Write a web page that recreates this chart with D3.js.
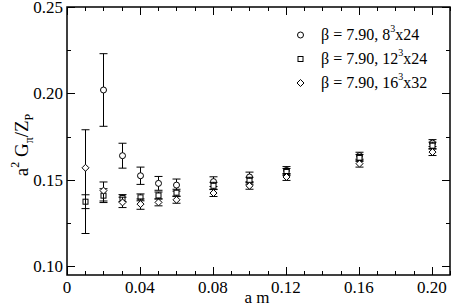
<!DOCTYPE html>
<html>
<head>
<meta charset="utf-8">
<script src="https://cdn.jsdelivr.net/npm/d3@7"></script>
<style>
  body { margin: 0; background: #fff; }
  text { font-family: "Liberation Serif", "DejaVu Serif", serif; fill: #000; }
</style>
</head>
<body>
<svg id="chart" width="452" height="306"></svg>
<script>
// quark mass values
var am8 = [0.02, 0.03, 0.04, 0.05, 0.06, 0.08, 0.10, 0.12, 0.16, 0.20];
var am12 = [0.01, 0.02, 0.03, 0.04, 0.05, 0.06, 0.08, 0.10, 0.12, 0.16, 0.20];
var am16 = [0.01, 0.02, 0.03, 0.04, 0.05, 0.06, 0.08, 0.10, 0.12, 0.16, 0.20];

// 8^3x24
var g8 = [0.202, 0.164, 0.1524, 0.148, 0.147, 0.149, 0.1517, 0.1555, 0.164, 0.1713];
var g8err = [0.021, 0.0072, 0.005, 0.004, 0.0035, 0.0028, 0.0028, 0.0022, 0.002, 0.002];
// 12^3x24
var g12 = [0.1374, 0.1409, 0.1395, 0.1399, 0.141, 0.1426, 0.1466, 0.1495, 0.1546, 0.1627, 0.1698];
var g12err = [0.004, 0.004, 0.002, 0.002, 0.002, 0.002, 0.002, 0.002, 0.002, 0.002, 0.002];
// 16^3x32
var g16 = [0.157, 0.1438, 0.137, 0.136, 0.137, 0.1385, 0.1424, 0.1466, 0.1517, 0.1594, 0.1661];
var g16errUp = [0.022, 0.005, 0.003, 0.003, 0.002, 0.002, 0.002, 0.002, 0.002, 0.002, 0.002];
var g16errDown = [0.038, 0.006, 0.003, 0.003, 0.002, 0.002, 0.002, 0.002, 0.002, 0.002, 0.002];

var xTicks = [0, 0.04, 0.08, 0.12, 0.16, 0.20];
var yTicks = [0.10, 0.15, 0.20, 0.25];
var legendLabels = ["8", "12", "16"];
var legendTails = ["x24", "x24", "x32"];

var svg = d3.select("#chart");
var pl = 67, pr = 450, pt = 7, pb = 275;

var x = d3.scaleLinear().domain([0, 0.21]).range([pl, pr]);
var y = d3.scaleLinear().domain([0.095, 0.25]).range([pb, pt]);

// ticks (inward, on all four sides)
var tk = svg.append("g").attr("stroke", "#000").attr("stroke-width", 1);
d3.range(0, 0.2101, 0.01).forEach(function(v, i) {
  var len = (i % 4 === 0) ? 8 : 4;
  var px = Math.round(x(v)) + 0.5;
  tk.append("line").attr("x1", px).attr("x2", px).attr("y1", pb).attr("y2", pb - len);
  tk.append("line").attr("x1", px).attr("x2", px).attr("y1", pt).attr("y2", pt + len);
});
d3.range(0.10, 0.2501, 0.025).forEach(function(v, i) {
  var len = (i % 2 === 0) ? 8 : 4;
  var py = Math.round(y(v)) + 0.5;
  tk.append("line").attr("y1", py).attr("y2", py).attr("x1", pl).attr("x2", pl + len);
  tk.append("line").attr("y1", py).attr("y2", py).attr("x1", pr).attr("x2", pr - len);
});

svg.append("rect")
  .attr("x", pl).attr("y", pt)
  .attr("width", pr - pl).attr("height", pb - pt)
  .attr("fill", "none").attr("stroke", "#000").attr("stroke-width", 1.5);

// tick labels
svg.append("g").selectAll("text").data(xTicks).enter().append("text")
  .attr("x", function(d) { return x(d); })
  .attr("y", 293)
  .attr("text-anchor", "middle")
  .attr("font-size", 17)
  .text(function(d) { return d === 0 ? "0" : d.toFixed(2); });

svg.append("g").selectAll("text").data(yTicks).enter().append("text")
  .attr("x", 63)
  .attr("y", function(d) { return y(d) + 6; })
  .attr("text-anchor", "end")
  .attr("font-size", 17)
  .text(function(d) { return d.toFixed(2); });

// axis titles
svg.append("text")
  .attr("x", 257).attr("y", 303)
  .attr("text-anchor", "middle").attr("font-size", 17)
  .text("a m");

var yl = svg.append("text")
  .attr("transform", "translate(28,145) rotate(-90)")
  .attr("text-anchor", "middle").attr("font-size", 19);
yl.append("tspan").text("a");
yl.append("tspan").attr("font-size", 12).attr("dy", -9).text("2");
yl.append("tspan").attr("dy", 9).text(" G");
yl.append("tspan").attr("font-size", 12).attr("dy", 5).text("π");
yl.append("tspan").attr("dy", -5).text("/Z");
yl.append("tspan").attr("font-size", 12).attr("dy", 5).text("P");

// markers
function marker(g, kind, cx, cy) {
  if (kind === "circle") {
    g.append("circle").attr("cx", cx).attr("cy", cy).attr("r", 3)
      .attr("fill", "#fff").attr("stroke", "#000");
  } else if (kind === "square") {
    g.append("rect").attr("x", cx - 2.5).attr("y", cy - 2.5).attr("width", 5).attr("height", 5)
      .attr("fill", "#fff").attr("stroke", "#000");
  } else {
    g.append("path").attr("d", "M" + cx + "," + (cy - 3.5) + "L" + (cx + 3.5) + "," + cy +
      "L" + cx + "," + (cy + 3.5) + "L" + (cx - 3.5) + "," + cy + "Z")
      .attr("fill", "#fff").attr("stroke", "#000");
  }
}

function series(xs, vals, errUp, errDown, kind) {
  var g = svg.append("g");
  xs.forEach(function(a, i) {
    var cx = Math.round(x(a)) + 0.5;
    var yt = y(vals[i] + errUp[i]), yb = y(vals[i] - errDown[i]);
    g.append("line").attr("x1", cx).attr("x2", cx).attr("y1", yt).attr("y2", yb).attr("stroke", "#000");
    g.append("line").attr("x1", cx - 4).attr("x2", cx + 4).attr("y1", yt).attr("y2", yt).attr("stroke", "#000");
    g.append("line").attr("x1", cx - 4).attr("x2", cx + 4).attr("y1", yb).attr("y2", yb).attr("stroke", "#000");
  });
  xs.forEach(function(a, i) {
    marker(g, kind, Math.round(x(a)) + 0.5, y(vals[i]));
  });
}

series(am8, g8, g8err, g8err, "circle");
series(am12, g12, g12err, g12err, "square");
series(am16, g16, g16errUp, g16errDown, "diamond");

// legend
var kinds = ["circle", "square", "diamond"];
var lg = svg.append("g");
legendLabels.forEach(function(l, i) {
  var ly = 35 + i * 24;
  marker(lg, kinds[i], 300.5, ly);
  var t = lg.append("text").attr("x", 321).attr("y", ly + 5).attr("font-size", 16);
  t.append("tspan").text("β = 7.90, " + l);
  t.append("tspan").attr("font-size", 10).attr("dy", -8).text("3");
  t.append("tspan").attr("dy", 8).text(legendTails[i]);
});
</script>
</body>
</html>
